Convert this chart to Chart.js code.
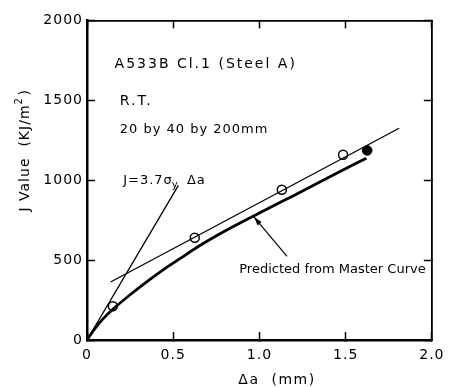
<!DOCTYPE html>
<html>
<head>
<meta charset="utf-8">
<script src="https://cdn.jsdelivr.net/npm/chart.js@4.4.0/dist/chart.umd.min.js"></script>
<style>
  body { margin: 0; background: #fff; }
  #wrap { width: 458px; height: 387px; }
</style>
</head>
<body>
<div id="wrap"><canvas id="myChart" width="458" height="387"></canvas></div>
<script>
// measured points (open = test data, filled = last point)
var openX = [0.15, 0.625, 1.13, 1.485];
var openJ = [211, 640, 940, 1159];
var filledX = [1.625];
var filledJ = [1186];
// predicted from master curve
var masterX = [0, 0.05, 0.1, 0.15, 0.25, 0.35, 0.45, 0.55, 0.65, 0.8, 1.0, 1.2, 1.4, 1.62];
var masterJ = [0, 78, 140, 192, 283, 367, 445, 517, 588, 682, 795, 905, 1017, 1138];
// regression line and blunting line
var fitX = [0.137, 1.81];
var fitJ = [363, 1325];
var bluntX = [0, 0.53];
var bluntJ = [0, 968];
// leader arrow for the master curve label
var arrowX = [1.16, 0.969];
var arrowJ = [523, 769];
var xTicks = [0, 0.5, 1.0, 1.5, 2.0];
var yTicks = [0, 500, 1000, 1500, 2000];

function pts(xs, ys) {
  return xs.map(function(x, i) { return {x: x, y: ys[i]}; });
}

var FONT = 'DejaVu Sans';
Chart.defaults.font.family = FONT;
Chart.defaults.color = '#000';

var notes = [
  {text: 'A533B Cl.1 (Steel A)', x: 0.16, y: 1723, size: 14, sp: 2},
  {text: 'R.T.', x: 0.19, y: 1495, size: 14, sp: 2},
  {text: '20 by 40 by 200mm', x: 0.19, y: 1317, size: 13, sp: 1},
  {text: 'Predicted from Master Curve', x: 0.883, y: 443, size: 13, sp: 0}
];

function font(size) { return size + 'px "' + FONT + '"'; }

var textPlugin = {
  id: 'texts',
  beforeDraw: function(chart) {
    chart.ctx.letterSpacing = '1px';
  },
  afterDatasetsDraw: function(chart) {
    var ctx = chart.ctx;
    var xs = chart.scales.x, ys = chart.scales.y;
    ctx.save();
    ctx.fillStyle = '#000';
    ctx.textBaseline = 'middle';
    ctx.textAlign = 'left';
    notes.forEach(function(n) {
      ctx.font = font(n.size);
      ctx.letterSpacing = n.sp + 'px';
      ctx.fillText(n.text, xs.getPixelForValue(n.x), ys.getPixelForValue(n.y));
    });

    // J = 3.7 sigma_y delta a
    ctx.letterSpacing = '1px';
    var jx = xs.getPixelForValue(0.21), jy = ys.getPixelForValue(997);
    ctx.font = font(13);
    ctx.fillText('J=3.7σ', jx, jy);
    var w = ctx.measureText('J=3.7σ').width;
    ctx.font = font(10);
    ctx.fillText('y', jx + w - 1, jy + 5);
    var w2 = ctx.measureText('y').width;
    ctx.font = font(13);
    ctx.fillText(' Δa', jx + w + w2 + 2, jy);

    // arrow head
    var x0 = xs.getPixelForValue(arrowX[0]), y0 = ys.getPixelForValue(arrowJ[0]);
    var x1 = xs.getPixelForValue(arrowX[1]), y1 = ys.getPixelForValue(arrowJ[1]);
    var a = Math.atan2(y1 - y0, x1 - x0);
    ctx.beginPath();
    ctx.moveTo(x1, y1);
    ctx.lineTo(x1 - 9 * Math.cos(a - 0.3), y1 - 9 * Math.sin(a - 0.3));
    ctx.lineTo(x1 - 9 * Math.cos(a + 0.3), y1 - 9 * Math.sin(a + 0.3));
    ctx.closePath();
    ctx.fill();

    // x axis title
    ctx.textAlign = 'center';
    ctx.letterSpacing = '1.5px';
    ctx.font = font(14);
    ctx.fillText('Δa  (mm)', 277, 380);

    // y axis title
    ctx.translate(25, 152);
    ctx.rotate(-Math.PI / 2);
    ctx.letterSpacing = '1px';
    ctx.font = font(14);
    var t = 'J Value  (KJ/m';
    var tw = ctx.measureText(t).width;
    ctx.textAlign = 'left';
    var sx = -tw / 2 - 6;
    ctx.fillText(t, sx, 0);
    ctx.font = font(10);
    ctx.fillText('2', sx + tw, -6);
    ctx.font = font(14);
    ctx.fillText(')', sx + tw + 9, 0);
    ctx.restore();
  }
};

function lineSet(xs, ys, width) {
  return {
    data: pts(xs, ys),
    borderColor: '#000',
    borderWidth: width,
    pointRadius: 0,
    showLine: true,
    fill: false
  };
}

var master = lineSet(masterX, masterJ, 2.8);
master.cubicInterpolationMode = 'monotone';

function tickList(list) {
  return function(s) { s.ticks = list.map(function(v) { return {value: v}; }); };
}
var tickGrid = { drawOnChartArea: false, tickLength: -8, tickWidth: 1.5, tickColor: '#000' };

var canvas = document.getElementById('myChart');
var ctx = canvas.getContext('2d');
var chart = new Chart(ctx, {
  type: 'scatter',
  data: {
    datasets: [
      lineSet(bluntX, bluntJ, 1.3),
      lineSet(fitX, fitJ, 1.3),
      master,
      lineSet(arrowX, arrowJ, 1.2),
      {
        data: pts(openX, openJ),
        pointRadius: 4.5,
        pointBackgroundColor: '#fff',
        pointBorderColor: '#000',
        pointBorderWidth: 1.5,
        showLine: false
      },
      {
        data: pts(filledX, filledJ),
        pointRadius: 4.8,
        pointBackgroundColor: '#000',
        pointBorderColor: '#000',
        showLine: false
      }
    ]
  },
  options: {
    responsive: false,
    animation: false,
    layout: { padding: { left: 0, top: 15, right: 25, bottom: 0 } },
    plugins: { legend: { display: false }, tooltip: { enabled: false } },
    scales: {
      x: {
        type: 'linear', position: 'bottom', min: 0, max: 2,
        afterBuildTicks: tickList(xTicks),
        afterFit: function(s) { s.height = 47; },
        grid: tickGrid,
        border: { color: '#000', width: 2.5 },
        ticks: {
          padding: 15, maxRotation: 0,
          font: { size: 14 },
          callback: function(v) { return v === 0 ? '0' : v.toFixed(1); }
        }
      },
      x2: {
        type: 'linear', position: 'top', min: 0, max: 2,
        afterBuildTicks: tickList(xTicks),
        afterFit: function(s) { s.height = 0; },
        grid: tickGrid,
        border: { color: '#000', width: 1.8 },
        ticks: { display: false }
      },
      y: {
        type: 'linear', position: 'left', min: 0, max: 2000,
        afterBuildTicks: tickList(yTicks),
        afterFit: function(s) { s.width = 87; },
        grid: tickGrid,
        border: { color: '#000', width: 2.5 },
        ticks: {
          padding: 12, font: { size: 14 },
          callback: function(v) { return String(v); }
        }
      },
      y2: {
        type: 'linear', position: 'right', min: 0, max: 2000,
        afterBuildTicks: tickList(yTicks),
        afterFit: function(s) { s.width = 0; },
        grid: tickGrid,
        border: { color: '#000', width: 1.8 },
        ticks: { display: false }
      }
    }
  },
  plugins: [textPlugin]
});
</script>
</body>
</html>
